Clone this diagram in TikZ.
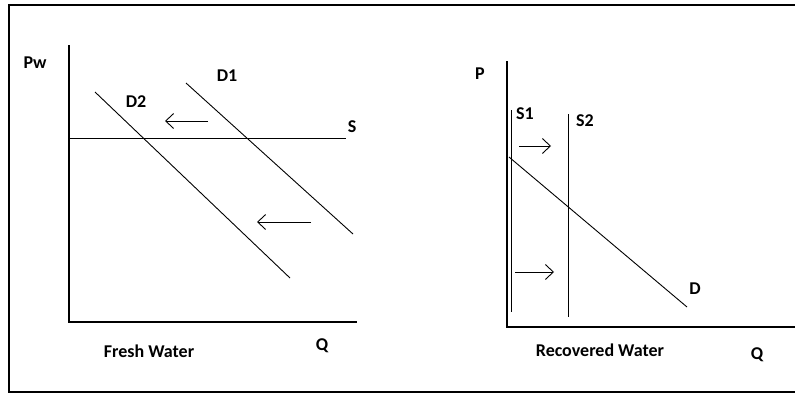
\documentclass[tikz,border=0pt]{standalone}
\usepackage{fontspec}
\setmainfont{Carlito}
\usetikzlibrary{arrows.meta}

\begin{document}
\begin{tikzpicture}[
				x=1pt, y=-1pt,
				frame/.style = {draw, line width=2pt},
				axis/.style = {draw, line width=1.3pt},
				curve/.style = {draw, line width=0.9pt},
				shiftarrow/.style = {draw, line width=0.9pt, -{Straight Barb[length=8pt, width=15pt]}},
				lbl/.style = {font=\fontsize{18}{21}\selectfont\bfseries, inner sep=0pt}
				]
				\useasboundingbox (0,0) rectangle (795,394);
				\draw[frame] (795,5) -- (9,5) -- (9,392) -- (795,392);
				
				% fresh water
				\coordinate (O1) at (69,322);
				\coordinate (Y1) at (69,45);
				\coordinate (X1) at (357,322);
				\coordinate (S0) at (69,138);
				\coordinate (S9) at (346,138);
				\coordinate (A0) at (186,83);
				\coordinate (A9) at (353,234);
				\coordinate (B0) at (95,92);
				\coordinate (B9) at (290,278);
				\coordinate (L0) at (208,121);
				\coordinate (L1) at (165,121);
				\coordinate (M0) at (311,222);
				\coordinate (M1) at (257,222);
				
				\draw[axis] (Y1) -- (O1) -- (X1);
				\draw[curve] (S0) -- (S9);
				\draw[curve] (A0) -- (A9);
				\draw[curve] (B0) -- (B9);
				\draw[shiftarrow] (L0) -- (L1);
				\draw[shiftarrow] (M0) -- (M1);
				
				\node[lbl] (pw) at (35,63) {Pw};
				\node[lbl] (s) at (352,127) {S};
				\node[lbl] (d1) at (227,76) {D1};
				\node[lbl] (d2) at (136,102) {D2};
				\node[lbl] (fresh) at (149,351) {Fresh Water};
				\node[lbl] (q1) at (322,346) {Q};
				
				% recovered water
				\coordinate (O2) at (507,327);
				\coordinate (Y2) at (507,61);
				\coordinate (X2) at (795,327);
				\coordinate (P0) at (511,110);
				\coordinate (P9) at (511,312);
				\coordinate (R0) at (568,114);
				\coordinate (R9) at (568,317);
				\coordinate (C0) at (509,157);
				\coordinate (C9) at (687,307);
				\coordinate (N0) at (519,146);
				\coordinate (N1) at (551,146);
				\coordinate (K0) at (515,272);
				\coordinate (K1) at (554,272);
				
				\draw[axis] (Y2) -- (O2) -- (X2);
				\draw[curve] (P0) -- (P9);
				\draw[curve] (R0) -- (R9);
				\draw[curve] (C0) -- (C9);
				\draw[shiftarrow] (N0) -- (N1);
				\draw[shiftarrow] (K0) -- (K1);
				
				\node[lbl] (p) at (480,74) {P};
				\node[lbl] (s1) at (525,114) {S1};
				\node[lbl] (s2) at (585,121) {S2};
				\node[lbl] (d) at (695,289) {D};
				\node[lbl] (recov) at (600,350) {Recovered Water};
				\node[lbl] (q2) at (757,355) {Q};
\end{tikzpicture}
\end{document}
